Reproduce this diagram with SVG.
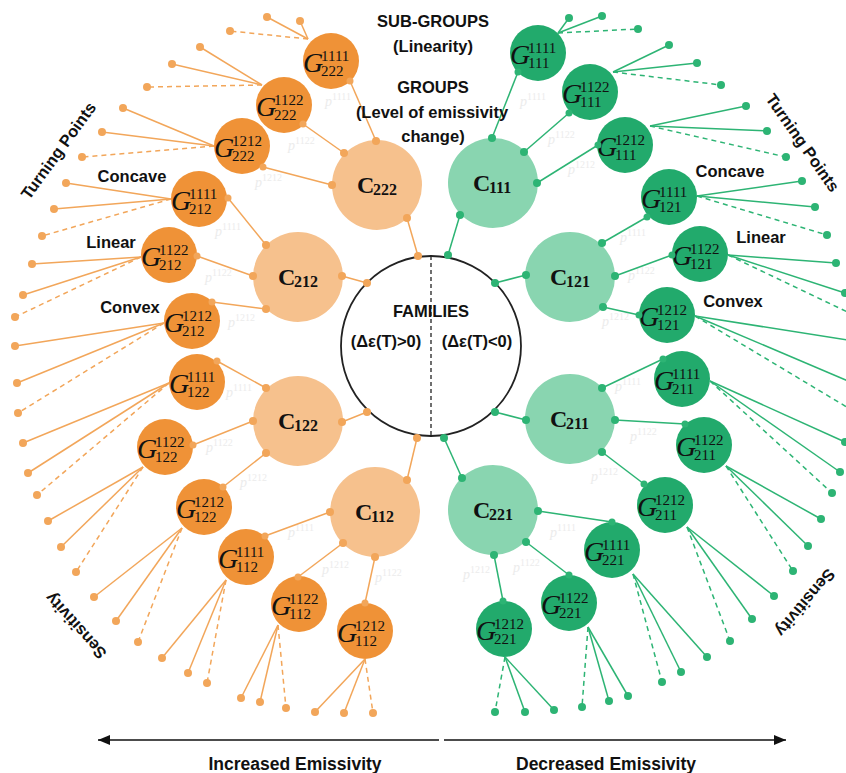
<svg xmlns="http://www.w3.org/2000/svg" width="846" height="773" viewBox="0 0 846 773">
<defs>
<style>
.lbl{font-family:"Liberation Sans",Arial,sans-serif;font-weight:bold;font-size:16.5px;fill:#111;text-anchor:middle}
.big{font-size:17.5px}
.go{fill:#EF9237}
.co{fill:#F6C18D}
.gg{fill:#22AA6C}
.cg{fill:#89D5B0}
.gi{font-family:"Liberation Serif","Times New Roman",serif;font-style:italic;font-size:28px;fill:#111}
.gs{font-family:"Liberation Serif","Times New Roman",serif;font-size:15px;fill:#111}
.cl{font-family:"Liberation Serif","Times New Roman",serif;font-weight:bold;font-size:24px;fill:#111}
.cs{font-family:"Liberation Serif","Times New Roman",serif;font-weight:bold;font-size:16px;fill:#111}
.pl{font-family:"Liberation Serif","Times New Roman",serif;font-style:italic;font-size:14px;fill:#ececec}
.pl tspan{font-size:10px;font-style:normal}
.or line{stroke:#F2A65A;stroke-width:1.5}
.or circle{fill:#F2A65A}
.gr line{stroke:#2DB474;stroke-width:1.5}
.gr circle{fill:#2DB474}
line.d{stroke-dasharray:5 4}
.ax{stroke:#111;stroke-width:1.5}
</style>
<marker id="ah" viewBox="0 0 12 10" refX="12" refY="5" markerWidth="12" markerHeight="10" markerUnits="userSpaceOnUse" orient="auto"><path d="M0,0 L12,5 L0,10 z" fill="#111"/></marker>
</defs>
<rect width="846" height="773" fill="#fff"/>

<!-- faint edge labels -->
<g id="edge-labels">
<text class="pl" x="325" y="106">p<tspan dy="-6">1111</tspan></text>
<text class="pl" x="288" y="150">p<tspan dy="-6">1122</tspan></text>
<text class="pl" x="255" y="187">p<tspan dy="-6">1212</tspan></text>
<text class="pl" x="215" y="236">p<tspan dy="-6">1111</tspan></text>
<text class="pl" x="205" y="282">p<tspan dy="-6">1122</tspan></text>
<text class="pl" x="228" y="327">p<tspan dy="-6">1212</tspan></text>
<text class="pl" x="226" y="397">p<tspan dy="-6">1111</tspan></text>
<text class="pl" x="206" y="452">p<tspan dy="-6">1122</tspan></text>
<text class="pl" x="240" y="487">p<tspan dy="-6">1212</tspan></text>
<text class="pl" x="288" y="537">p<tspan dy="-6">1111</tspan></text>
<text class="pl" x="322" y="574">p<tspan dy="-6">1212</tspan></text>
<text class="pl" x="375" y="582">p<tspan dy="-6">1122</tspan></text>
<text class="pl" x="520" y="106">p<tspan dy="-6">1111</tspan></text>
<text class="pl" x="548" y="144">p<tspan dy="-6">1122</tspan></text>
<text class="pl" x="568" y="174">p<tspan dy="-6">1212</tspan></text>
<text class="pl" x="620" y="242">p<tspan dy="-6">1111</tspan></text>
<text class="pl" x="628" y="280">p<tspan dy="-6">1122</tspan></text>
<text class="pl" x="602" y="326">p<tspan dy="-6">1212</tspan></text>
<text class="pl" x="615" y="391">p<tspan dy="-6">1111</tspan></text>
<text class="pl" x="630" y="441">p<tspan dy="-6">1122</tspan></text>
<text class="pl" x="591" y="481">p<tspan dy="-6">1212</tspan></text>
<text class="pl" x="550" y="537">p<tspan dy="-6">1111</tspan></text>
<text class="pl" x="513" y="572">p<tspan dy="-6">1122</tspan></text>
<text class="pl" x="463" y="579">p<tspan dy="-6">1212</tspan></text>
</g>

<!-- central family node -->
<g id="families">
<circle cx="431" cy="346" r="90" fill="#fff" stroke="#222" stroke-width="1.8"/>
<line x1="431" y1="256" x2="431" y2="436" stroke="#222" stroke-width="1.3" stroke-dasharray="4 3"/>
<text class="lbl" x="431" y="317">FAMILIES</text>
<text class="lbl" x="386" y="347">(Δε(T)&gt;0)</text>
<text class="lbl" x="477" y="347">(Δε(T)&lt;0)</text>
</g>

<!-- group nodes -->
<g id="C222"><circle class="co" cx="377" cy="185" r="45"/><text class="cl" x="357" y="193">C</text><text class="cs" x="373" y="195">222</text></g>
<g id="C212"><circle class="co" cx="298" cy="277" r="45"/><text class="cl" x="278" y="285">C</text><text class="cs" x="294" y="287">212</text></g>
<g id="C122"><circle class="co" cx="298" cy="421" r="45"/><text class="cl" x="278" y="429">C</text><text class="cs" x="294" y="431">122</text></g>
<g id="C112"><circle class="co" cx="375" cy="512" r="45"/><text class="cl" x="355" y="520">C</text><text class="cs" x="371" y="522">112</text></g>
<g id="C111"><circle class="cg" cx="493" cy="183" r="45"/><text class="cl" x="473" y="191">C</text><text class="cs" x="489" y="193">111</text></g>
<g id="C121"><circle class="cg" cx="570" cy="277" r="45"/><text class="cl" x="550" y="285">C</text><text class="cs" x="566" y="287">121</text></g>
<g id="C211"><circle class="cg" cx="570" cy="419" r="45"/><text class="cl" x="550" y="427">C</text><text class="cs" x="566" y="429">211</text></g>
<g id="C221"><circle class="cg" cx="493" cy="510" r="45"/><text class="cl" x="473" y="518">C</text><text class="cs" x="489" y="520">221</text></g>

<!-- sub-group nodes (orange) -->
<g id="G222_1111"><circle class="go" cx="331" cy="61" r="28"/><text class="gi" x="303" y="72">G</text><text class="gs" x="321" y="61">1111</text><text class="gs" x="321" y="76">222</text></g>
<g id="G222_1122"><circle class="go" cx="284" cy="105" r="28"/><text class="gi" x="256" y="116">G</text><text class="gs" x="274" y="105">1122</text><text class="gs" x="274" y="120">222</text></g>
<g id="G222_1212"><circle class="go" cx="242" cy="146" r="28"/><text class="gi" x="214" y="157">G</text><text class="gs" x="232" y="146">1212</text><text class="gs" x="232" y="161">222</text></g>
<g id="G212_1111"><circle class="go" cx="199" cy="199" r="28"/><text class="gi" x="171" y="210">G</text><text class="gs" x="189" y="199">1111</text><text class="gs" x="189" y="214">212</text></g>
<g id="G212_1122"><circle class="go" cx="169" cy="255" r="28"/><text class="gi" x="141" y="266">G</text><text class="gs" x="159" y="255">1122</text><text class="gs" x="159" y="270">212</text></g>
<g id="G212_1212"><circle class="go" cx="192" cy="321" r="28"/><text class="gi" x="164" y="332">G</text><text class="gs" x="182" y="321">1212</text><text class="gs" x="182" y="336">212</text></g>
<g id="G122_1111"><circle class="go" cx="197" cy="382" r="28"/><text class="gi" x="169" y="393">G</text><text class="gs" x="187" y="382">1111</text><text class="gs" x="187" y="397">122</text></g>
<g id="G122_1122"><circle class="go" cx="165" cy="447" r="28"/><text class="gi" x="137" y="458">G</text><text class="gs" x="155" y="447">1122</text><text class="gs" x="155" y="462">122</text></g>
<g id="G122_1212"><circle class="go" cx="204" cy="507" r="28"/><text class="gi" x="176" y="518">G</text><text class="gs" x="194" y="507">1212</text><text class="gs" x="194" y="522">122</text></g>
<g id="G112_1111"><circle class="go" cx="246" cy="557" r="28"/><text class="gi" x="218" y="568">G</text><text class="gs" x="236" y="557">1111</text><text class="gs" x="236" y="572">112</text></g>
<g id="G112_1122"><circle class="go" cx="299" cy="604" r="28"/><text class="gi" x="271" y="615">G</text><text class="gs" x="289" y="604">1122</text><text class="gs" x="289" y="619">112</text></g>
<g id="G112_1212"><circle class="go" cx="365" cy="631" r="28"/><text class="gi" x="337" y="642">G</text><text class="gs" x="355" y="631">1212</text><text class="gs" x="355" y="646">112</text></g>

<!-- sub-group nodes (green) -->
<g id="G111_1111"><circle class="gg" cx="538" cy="53" r="28"/><text class="gi" x="510" y="64">G</text><text class="gs" x="528" y="53">1111</text><text class="gs" x="528" y="68">111</text></g>
<g id="G111_1122"><circle class="gg" cx="590" cy="92" r="28"/><text class="gi" x="562" y="103">G</text><text class="gs" x="580" y="92">1122</text><text class="gs" x="580" y="107">111</text></g>
<g id="G111_1212"><circle class="gg" cx="625" cy="145" r="28"/><text class="gi" x="597" y="156">G</text><text class="gs" x="615" y="145">1212</text><text class="gs" x="615" y="160">111</text></g>
<g id="G121_1111"><circle class="gg" cx="669" cy="197" r="28"/><text class="gi" x="641" y="208">G</text><text class="gs" x="659" y="197">1111</text><text class="gs" x="659" y="212">121</text></g>
<g id="G121_1122"><circle class="gg" cx="700" cy="254" r="28"/><text class="gi" x="672" y="265">G</text><text class="gs" x="690" y="254">1122</text><text class="gs" x="690" y="269">121</text></g>
<g id="G121_1212"><circle class="gg" cx="667" cy="315" r="28"/><text class="gi" x="639" y="326">G</text><text class="gs" x="657" y="315">1212</text><text class="gs" x="657" y="330">121</text></g>
<g id="G211_1111"><circle class="gg" cx="682" cy="379" r="28"/><text class="gi" x="654" y="390">G</text><text class="gs" x="672" y="379">1111</text><text class="gs" x="672" y="394">211</text></g>
<g id="G211_1122"><circle class="gg" cx="704" cy="445" r="28"/><text class="gi" x="676" y="456">G</text><text class="gs" x="694" y="445">1122</text><text class="gs" x="694" y="460">211</text></g>
<g id="G211_1212"><circle class="gg" cx="665" cy="505" r="28"/><text class="gi" x="637" y="516">G</text><text class="gs" x="655" y="505">1212</text><text class="gs" x="655" y="520">211</text></g>
<g id="G221_1111"><circle class="gg" cx="612" cy="550" r="28"/><text class="gi" x="584" y="561">G</text><text class="gs" x="602" y="550">1111</text><text class="gs" x="602" y="565">221</text></g>
<g id="G221_1122"><circle class="gg" cx="569" cy="603" r="28"/><text class="gi" x="541" y="614">G</text><text class="gs" x="559" y="603">1122</text><text class="gs" x="559" y="618">221</text></g>
<g id="G221_1212"><circle class="gg" cx="504" cy="629" r="28"/><text class="gi" x="476" y="640">G</text><text class="gs" x="494" y="629">1212</text><text class="gs" x="494" y="644">221</text></g>

<!-- connectors -->
<g id="connectors">
<g class="or">
<!-- family to groups -->
<line x1="418" y1="256" x2="407" y2="218"/><circle cx="418" cy="256" r="4"/><circle cx="407" cy="218" r="4"/>
<line x1="367" y1="283" x2="342" y2="276"/><circle cx="367" cy="283" r="4"/><circle cx="342" cy="276" r="4"/>
<line x1="367" y1="412" x2="342" y2="422"/><circle cx="367" cy="412" r="4"/><circle cx="342" cy="422" r="4"/>
<line x1="417" y1="438" x2="407" y2="480"/><circle cx="417" cy="438" r="4"/><circle cx="407" cy="480" r="4"/>
<!-- groups to sub-groups -->
<line x1="376" y1="141" x2="350" y2="81"/><circle cx="376" cy="141" r="4"/><circle cx="350" cy="81" r="3.5"/>
<line x1="344" y1="153" x2="303" y2="124"/><circle cx="344" cy="153" r="4"/><circle cx="303" cy="124" r="3.5"/>
<line x1="332" y1="185" x2="263" y2="167"/><circle cx="332" cy="185" r="4"/><circle cx="263" cy="167" r="3.5"/>
<line x1="266" y1="245" x2="228" y2="198"/><circle cx="266" cy="245" r="4"/><circle cx="228" cy="198" r="3.5"/>
<line x1="253" y1="276" x2="197" y2="256"/><circle cx="253" cy="276" r="4"/><circle cx="197" cy="256" r="3.5"/>
<line x1="266" y1="309" x2="212" y2="302"/><circle cx="266" cy="309" r="4"/><circle cx="212" cy="302" r="3.5"/>
<line x1="266" y1="388" x2="217" y2="361"/><circle cx="266" cy="388" r="4"/><circle cx="217" cy="361" r="3.5"/>
<line x1="253" y1="421" x2="193" y2="445"/><circle cx="253" cy="421" r="4"/><circle cx="193" cy="445" r="3.5"/>
<line x1="266" y1="453" x2="223" y2="487"/><circle cx="266" cy="453" r="4"/><circle cx="223" cy="487" r="3.5"/>
<line x1="330" y1="512" x2="265" y2="536"/><circle cx="330" cy="512" r="4"/><circle cx="265" cy="536" r="3.5"/>
<line x1="343" y1="543" x2="298" y2="577"/><circle cx="343" cy="543" r="4"/><circle cx="298" cy="577" r="3.5"/>
<line x1="375" y1="557" x2="365" y2="603"/><circle cx="375" cy="557" r="4"/><circle cx="365" cy="603" r="3.5"/>
<!-- sub-groups to leaves -->
<line x1="308" y1="39" x2="267" y2="17"/><line x1="308" y1="39" x2="300" y2="21"/><line class="d" x1="308" y1="39" x2="230" y2="31"/>
<circle cx="267" cy="17" r="4"/><circle cx="300" cy="21" r="4"/><circle cx="230" cy="31" r="4"/>
<line x1="262" y1="85" x2="200" y2="47"/><line x1="262" y1="85" x2="172" y2="64"/><line class="d" x1="262" y1="85" x2="147" y2="87"/>
<circle cx="200" cy="47" r="4"/><circle cx="172" cy="64" r="4"/><circle cx="147" cy="87" r="4"/>
<line x1="214" y1="146" x2="123" y2="108"/><line x1="214" y1="146" x2="102" y2="132"/><line class="d" x1="214" y1="146" x2="82" y2="157"/>
<circle cx="123" cy="108" r="4"/><circle cx="102" cy="132" r="4"/><circle cx="82" cy="157" r="4"/>
<line x1="171" y1="199" x2="66" y2="183"/><line x1="171" y1="199" x2="54" y2="209"/><line class="d" x1="171" y1="199" x2="42" y2="236"/>
<circle cx="66" cy="183" r="4"/><circle cx="54" cy="209" r="4"/><circle cx="42" cy="236" r="4"/>
<line x1="141" y1="257" x2="32" y2="264"/><line x1="141" y1="257" x2="23" y2="295"/><line class="d" x1="141" y1="257" x2="15" y2="317"/>
<circle cx="32" cy="264" r="4"/><circle cx="23" cy="295" r="4"/><circle cx="15" cy="317" r="4"/>
<line x1="164" y1="323" x2="15" y2="346"/><line x1="164" y1="323" x2="17" y2="383"/><line class="d" x1="164" y1="323" x2="18" y2="413"/>
<circle cx="15" cy="346" r="4"/><circle cx="17" cy="383" r="4"/><circle cx="18" cy="413" r="4"/>
<line x1="169" y1="383" x2="23" y2="443"/><line x1="169" y1="383" x2="28" y2="473"/><line class="d" x1="169" y1="383" x2="37" y2="495"/>
<circle cx="23" cy="443" r="4"/><circle cx="28" cy="473" r="4"/><circle cx="37" cy="495" r="4"/>
<line x1="143" y1="467" x2="48" y2="521"/><line x1="143" y1="467" x2="61" y2="547"/><line class="d" x1="143" y1="467" x2="76" y2="572"/>
<circle cx="48" cy="521" r="4"/><circle cx="61" cy="547" r="4"/><circle cx="76" cy="572" r="4"/>
<line x1="182" y1="528" x2="94" y2="597"/><line x1="182" y1="528" x2="116" y2="621"/><line class="d" x1="182" y1="528" x2="138" y2="642"/>
<circle cx="94" cy="597" r="4"/><circle cx="116" cy="621" r="4"/><circle cx="138" cy="642" r="4"/>
<line x1="226" y1="580" x2="162" y2="658"/><line x1="226" y1="580" x2="188" y2="673"/><line class="d" x1="226" y1="580" x2="207" y2="683"/>
<circle cx="162" cy="658" r="4"/><circle cx="188" cy="673" r="4"/><circle cx="207" cy="683" r="4"/>
<line x1="278" y1="625" x2="241" y2="698"/><line x1="278" y1="625" x2="260" y2="702"/><line class="d" x1="278" y1="625" x2="286" y2="708"/>
<circle cx="241" cy="698" r="4"/><circle cx="260" cy="702" r="4"/><circle cx="286" cy="708" r="4"/>
<line x1="365" y1="659" x2="315" y2="712"/><line x1="365" y1="659" x2="344" y2="713"/><line class="d" x1="365" y1="659" x2="373" y2="713"/>
<circle cx="315" cy="712" r="4"/><circle cx="344" cy="713" r="4"/><circle cx="373" cy="713" r="4"/>
</g>
<g class="gr">
<!-- family to groups -->
<line x1="448" y1="255" x2="460" y2="215"/><circle cx="448" cy="255" r="4"/><circle cx="460" cy="215" r="4"/>
<line x1="495" y1="283" x2="526" y2="275"/><circle cx="495" cy="283" r="4"/><circle cx="526" cy="275" r="4"/>
<line x1="495" y1="412" x2="526" y2="420"/><circle cx="495" cy="412" r="4"/><circle cx="526" cy="420" r="4"/>
<line x1="444" y1="438" x2="462" y2="478"/><circle cx="444" cy="438" r="4"/><circle cx="462" cy="478" r="4"/>
<!-- groups to sub-groups -->
<line x1="492" y1="138" x2="518" y2="72"/><circle cx="492" cy="138" r="4"/><circle cx="518" cy="72" r="3.5"/>
<line x1="524" y1="152" x2="569" y2="113"/><circle cx="524" cy="152" r="4"/><circle cx="569" cy="113" r="3.5"/>
<line x1="537" y1="183" x2="598" y2="145"/><circle cx="537" cy="183" r="4"/><circle cx="598" cy="145" r="3.5"/>
<line x1="602" y1="243" x2="647" y2="217"/><circle cx="602" cy="243" r="4"/><circle cx="647" cy="217" r="3.5"/>
<line x1="615" y1="276" x2="672" y2="255"/><circle cx="615" cy="276" r="4"/><circle cx="672" cy="255" r="3.5"/>
<line x1="603" y1="307" x2="639" y2="315"/><circle cx="603" cy="307" r="4"/><circle cx="639" cy="315" r="3.5"/>
<line x1="602" y1="388" x2="663" y2="359"/><circle cx="602" cy="388" r="4"/><circle cx="663" cy="359" r="3.5"/>
<line x1="615" y1="420" x2="685" y2="424"/><circle cx="615" cy="420" r="4"/><circle cx="685" cy="424" r="3.5"/>
<line x1="602" y1="452" x2="644" y2="484"/><circle cx="602" cy="452" r="4"/><circle cx="644" cy="484" r="3.5"/>
<line x1="538" y1="511" x2="612" y2="522"/><circle cx="538" cy="511" r="4"/><circle cx="612" cy="522" r="3.5"/>
<line x1="526" y1="542" x2="569" y2="575"/><circle cx="526" cy="542" r="4"/><circle cx="569" cy="575" r="3.5"/>
<line x1="494" y1="555" x2="503" y2="601"/><circle cx="494" cy="555" r="4"/><circle cx="503" cy="601" r="3.5"/>
<!-- sub-groups to leaves -->
<line x1="558" y1="33" x2="569" y2="18"/><line x1="558" y1="33" x2="602" y2="16"/><line class="d" x1="558" y1="33" x2="638" y2="29"/>
<circle cx="569" cy="18" r="4"/><circle cx="602" cy="16" r="4"/><circle cx="638" cy="29" r="4"/>
<line x1="613" y1="72" x2="669" y2="45"/><line x1="613" y1="72" x2="697" y2="63"/><line class="d" x1="613" y1="72" x2="721" y2="85"/>
<circle cx="669" cy="45" r="4"/><circle cx="697" cy="63" r="4"/><circle cx="721" cy="85" r="4"/>
<line x1="650" y1="126" x2="746" y2="106"/><line x1="650" y1="126" x2="767" y2="131"/><line class="d" x1="650" y1="126" x2="786" y2="157"/>
<circle cx="746" cy="106" r="4"/><circle cx="767" cy="131" r="4"/><circle cx="786" cy="157" r="4"/>
<line x1="697" y1="196" x2="802" y2="181"/><line x1="697" y1="196" x2="815" y2="207"/><line class="d" x1="697" y1="196" x2="827" y2="235"/>
<circle cx="802" cy="181" r="4"/><circle cx="815" cy="207" r="4"/><circle cx="827" cy="235" r="4"/>
<line x1="728" y1="255" x2="836" y2="263"/><line x1="728" y1="255" x2="845" y2="293"/><line class="d" x1="728" y1="255" x2="860" y2="318"/>
<circle cx="836" cy="263" r="4"/><circle cx="845" cy="293" r="4"/>
<line x1="695" y1="316" x2="860" y2="342"/><line x1="695" y1="316" x2="860" y2="386"/><line class="d" x1="695" y1="316" x2="860" y2="415"/>
<line x1="710" y1="381" x2="845" y2="442"/><line x1="710" y1="381" x2="840" y2="472"/><line class="d" x1="710" y1="381" x2="832" y2="493"/>
<circle cx="845" cy="442" r="4"/><circle cx="840" cy="472" r="4"/><circle cx="832" cy="493" r="4"/>
<line x1="726" y1="466" x2="821" y2="519"/><line x1="726" y1="466" x2="808" y2="546"/><line class="d" x1="726" y1="466" x2="793" y2="571"/>
<circle cx="821" cy="519" r="4"/><circle cx="808" cy="546" r="4"/><circle cx="793" cy="571" r="4"/>
<line x1="687" y1="527" x2="774" y2="596"/><line x1="687" y1="527" x2="752" y2="619"/><line class="d" x1="687" y1="527" x2="730" y2="641"/>
<circle cx="774" cy="596" r="4"/><circle cx="752" cy="619" r="4"/><circle cx="730" cy="641" r="4"/>
<line x1="633" y1="574" x2="707" y2="657"/><line x1="633" y1="574" x2="681" y2="672"/><line class="d" x1="633" y1="574" x2="662" y2="682"/>
<circle cx="707" cy="657" r="4"/><circle cx="681" cy="672" r="4"/><circle cx="662" cy="682" r="4"/>
<line x1="588" y1="627" x2="628" y2="696"/><line x1="588" y1="627" x2="609" y2="701"/><line class="d" x1="588" y1="627" x2="582" y2="707"/>
<circle cx="628" cy="696" r="4"/><circle cx="609" cy="701" r="4"/><circle cx="582" cy="707" r="4"/>
<line x1="505" y1="657" x2="554" y2="710"/><line x1="505" y1="657" x2="525" y2="712"/><line class="d" x1="505" y1="657" x2="495" y2="712"/>
<circle cx="554" cy="710" r="4"/><circle cx="525" cy="712" r="4"/><circle cx="495" cy="712" r="4"/>
</g>
<!-- emissivity axis -->
<line class="ax" x1="439" y1="740" x2="98" y2="740" marker-end="url(#ah)"/>
<line class="ax" x1="444" y1="740" x2="786" y2="740" marker-end="url(#ah)"/>
</g>

<!-- annotations -->
<g id="annotations">
<text class="lbl" x="433" y="27">SUB-GROUPS</text>
<text class="lbl" x="433" y="52">(Linearity)</text>
<text class="lbl" x="433" y="93">GROUPS</text>
<text class="lbl" x="432" y="118">(Level of emissivity</text>
<text class="lbl" x="433" y="142">change)</text>
<text class="lbl" transform="translate(63,154) rotate(-54)" x="0" y="0">Turning Points</text>
<text class="lbl" transform="translate(798,146) rotate(55)" x="0" y="0">Turning Points</text>
<text class="lbl" x="132" y="182">Concave</text>
<text class="lbl" x="111" y="248">Linear</text>
<text class="lbl" x="130" y="313">Convex</text>
<text class="lbl" x="730" y="177">Concave</text>
<text class="lbl" x="761" y="243">Linear</text>
<text class="lbl" x="733" y="307">Convex</text>
<text class="lbl" transform="translate(80,622) rotate(228)" x="0" y="0">Sensitivity</text>
<text class="lbl" transform="translate(801,599) rotate(130)" x="0" y="0">Sensitivity</text>
<text class="lbl big" x="295" y="770">Increased Emissivity</text>
<text class="lbl big" x="606" y="770">Decreased Emissivity</text>
</g>
</svg>
